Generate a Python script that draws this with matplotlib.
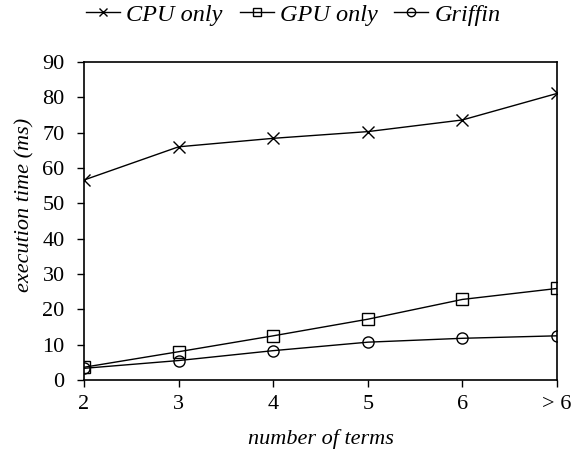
import matplotlib.pyplot as plt

terms = ['2', '3', '4', '5', '6', '> 6']
cpu_only = [56.6, 66.0, 68.4, 70.3, 73.6, 81.1]
gpu_only = [3.6, 8.0, 12.5, 17.2, 22.8, 25.9]
griffin = [3.3, 5.5, 8.3, 10.7, 11.8, 12.5]

plt.rcParams['font.family'] = 'serif'
plt.rcParams['font.serif'] = ['Liberation Serif', 'Times New Roman', 'DejaVu Serif']
plt.rcParams['font.size'] = 16

fig = plt.figure(figsize=(5.81, 4.5), dpi=100)
ax = fig.add_axes([0.1446, 0.1556, 0.8141, 0.7066])

x = range(len(terms))
ax.plot(x, cpu_only, '-kx', lw=1, ms=9, mew=1, label='CPU only')
ax.plot(x, gpu_only, '-ks', lw=1, ms=8, mew=1, mfc='none', label='GPU only')
ax.plot(x, griffin, '-ko', lw=1, ms=8, mew=1, mfc='none', label='Griffin')

ax.set_xlim(0, len(terms) - 1)
ax.set_ylim(0, 90)
ax.set_yticks(range(0, 91, 10))
ax.set_xticks(list(x))
ax.set_xticklabels(terms)
ax.tick_params(direction='out', length=5, width=1, top=False, right=False)
ax.tick_params(axis='y', pad=9)
ax.tick_params(axis='x', pad=6)
for s in ax.spines.values():
    s.set_linewidth(1.2)

ax.set_xlabel('number of terms', style='italic', labelpad=11)
ax.set_ylabel('execution time (ms)', style='italic')
ax.yaxis.set_label_coords(-0.105, 0.55)

leg = fig.legend(loc='upper center', bbox_to_anchor=(0.505, 1.04), ncol=3,
                 frameon=False, handlelength=1.4, handletextpad=0.25,
                 columnspacing=0.7, prop={'style': 'italic', 'size': 17.5})
for h in leg.legend_handles:
    h.set_markersize(6)

fig.savefig('out.png', dpi=100)
